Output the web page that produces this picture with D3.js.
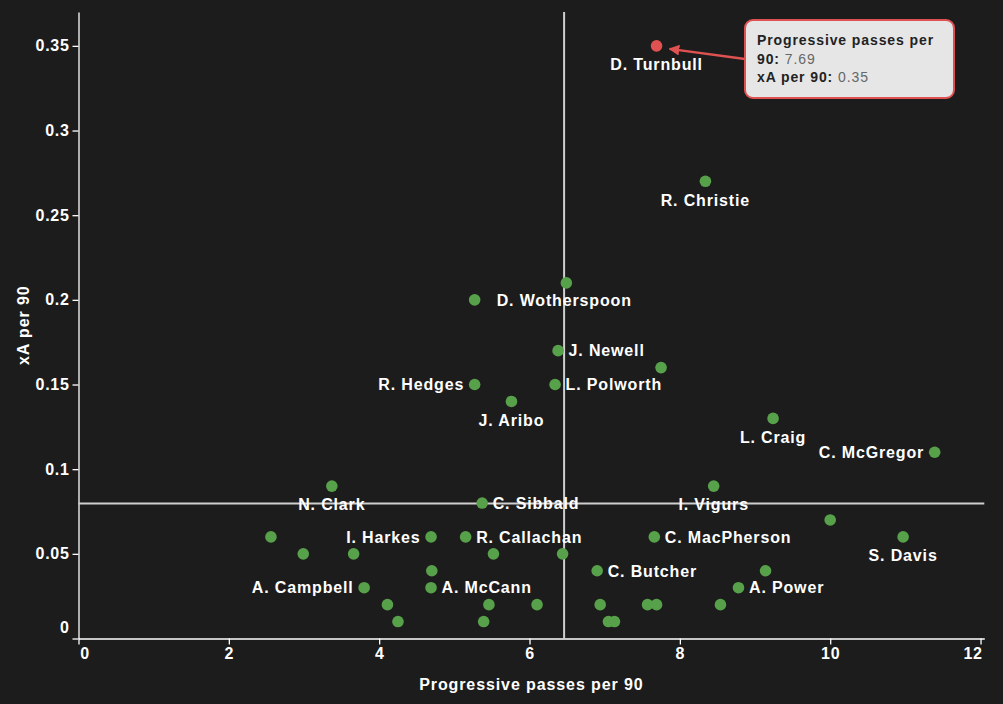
<!DOCTYPE html>
<html>
<head>
<meta charset="utf-8">
<script src="https://cdn.jsdelivr.net/npm/d3@7"></script>
<style>
  html, body { margin: 0; padding: 0; background: #1c1c1c; }
  svg { display: block; }
  text { font-family: "Liberation Sans", Arial, sans-serif; font-weight: bold; }
</style>
</head>
<body>
<svg id="chart" width="1003" height="704"></svg>
<script>
// ---- data ----
const players = [
  "D. Turnbull", "R. Christie", "", "D. Wotherspoon", "J. Newell", "", "R. Hedges", "L. Polworth",
  "J. Aribo", "L. Craig", "C. McGregor", "N. Clark", "I. Vigurs", "C. Sibbald", "", "",
  "I. Harkes", "R. Callachan", "C. MacPherson", "S. Davis", "", "", "", "",
  "", "C. Butcher", "", "A. Campbell", "A. McCann", "A. Power", "", "",
  "", "", "", "", "", "", "", "", ""
];
const progPasses = [
  7.69, 8.34, 6.49, 5.27, 6.38, 7.75, 5.27, 6.34,
  5.76, 9.24, 11.39, 3.37, 8.45, 5.37, 10.00, 2.56,
  4.69, 5.15, 7.66, 10.97, 2.99, 3.66, 5.52, 6.44,
  4.70, 6.90, 9.14, 3.80, 4.69, 8.78, 4.11, 5.46,
  6.10, 6.94, 7.57, 7.69, 8.54, 4.25, 5.39, 7.05, 7.13
];
const xAValues = [
  0.35, 0.27, 0.21, 0.20, 0.17, 0.16, 0.15, 0.15,
  0.14, 0.13, 0.11, 0.09, 0.09, 0.08, 0.07, 0.06,
  0.06, 0.06, 0.06, 0.06, 0.05, 0.05, 0.05, 0.05,
  0.04, 0.04, 0.04, 0.03, 0.03, 0.03, 0.02, 0.02,
  0.02, 0.02, 0.02, 0.02, 0.02, 0.01, 0.01, 0.01, 0.01
];
const xTicks = [0, 2, 4, 6, 8, 10, 12];
const yTicks = [0, 0.05, 0.1, 0.15, 0.2, 0.25, 0.3, 0.35];
const refProgPasses = 6.46;   // vertical reference line
const refXA = 0.0797;         // horizontal reference line
const highlighted = "D. Turnbull";
const xTitle = "Progressive passes per 90";
const yTitle = "xA per 90";

// label placement (layout, not data)
const labelSide = {
  "D. Turnbull": "below", "R. Christie": "below", "D. Wotherspoon": "rightFar",
  "J. Newell": "right", "R. Hedges": "left", "L. Polworth": "right", "J. Aribo": "below",
  "L. Craig": "below", "C. McGregor": "left", "N. Clark": "below", "I. Vigurs": "below",
  "C. Sibbald": "right", "I. Harkes": "left", "R. Callachan": "right", "C. MacPherson": "right",
  "S. Davis": "below", "C. Butcher": "right", "A. Campbell": "left", "A. McCann": "right",
  "A. Power": "right"
};

// ---- chart ----
const svg = d3.select("#chart");
svg.append("rect").attr("width", 1003).attr("height", 704).attr("fill", "#1c1c1c");

const x = d3.scaleLinear().domain([0, 12.05]).range([78.5, 984.3]);
const y = d3.scaleLinear().domain([0, 0.37]).range([638.5, 12]);

const data = progPasses.map((v, i) => ({ name: players[i], x: v, y: xAValues[i] }));

// axes
const xAxis = svg.append("g").attr("transform", `translate(0,${y(0)})`)
  .call(d3.axisBottom(x).tickValues(xTicks).tickFormat(d3.format("d")).tickSizeOuter(0));
const yAxis = svg.append("g").attr("transform", `translate(${x(0)},0)`)
  .call(d3.axisLeft(y).tickValues(yTicks).tickFormat(d => d === 0 ? "0" : String(+d.toFixed(2))).tickSizeOuter(0));

[xAxis, yAxis].forEach(g => {
  g.selectAll("path.domain").attr("stroke", "#ffffff").attr("stroke-width", 1.3);
  g.selectAll(".tick line").attr("stroke", "#ffffff").attr("stroke-width", 1.3);
  g.selectAll(".tick text").attr("fill", "#ffffff").style("font-size", "16px")
    .style("letter-spacing", "0.7px").style("font-weight", "bold")
    .style("font-family", '"Liberation Sans", Arial, sans-serif');
});
xAxis.selectAll(".tick text").filter(d => d === 0).attr("dx", 6);
xAxis.selectAll(".tick text").filter(d => d === 12).attr("dx", -8);
yAxis.selectAll(".tick text").filter(d => d === 0).attr("dy", "-0.4em");

// axis titles
svg.append("text").attr("x", (x.range()[0] + x.range()[1]) / 2).attr("y", 690)
  .attr("text-anchor", "middle").attr("fill", "#ffffff").style("font-size", "16px")
  .style("letter-spacing", "0.9px").text(xTitle);
svg.append("text").attr("transform", `translate(29,${(y.range()[0] + y.range()[1]) / 2}) rotate(-90)`)
  .attr("text-anchor", "middle").attr("fill", "#ffffff").style("font-size", "16px")
  .style("letter-spacing", "0.9px").text(yTitle);

// reference lines
svg.append("line").attr("x1", x(refProgPasses)).attr("x2", x(refProgPasses))
  .attr("y1", y.range()[1]).attr("y2", y(0))
  .attr("stroke", "#cfcfcf").attr("stroke-width", 2);
svg.append("line").attr("x1", x(0)).attr("x2", x.range()[1])
  .attr("y1", y(refXA)).attr("y2", y(refXA))
  .attr("stroke", "#cfcfcf").attr("stroke-width", 2);

// points
svg.append("g").selectAll("circle").data(data).join("circle")
  .attr("cx", d => x(d.x)).attr("cy", d => y(d.y)).attr("r", 5.8)
  .attr("fill", d => d.name === highlighted ? "#e05252" : "#58a14b");

// labels
svg.append("g").selectAll("text").data(data.filter(d => d.name)).join("text")
  .attr("x", d => {
    const s = labelSide[d.name];
    if (s === "right") return x(d.x) + 10.5;
    if (s === "rightFar") return x(d.x) + 22;
    if (s === "left") return x(d.x) - 10.5;
    return x(d.x);
  })
  .attr("y", d => labelSide[d.name] === "below" ? y(d.y) + 18.5 : y(d.y))
  .attr("dy", "0.36em")
  .attr("text-anchor", d => {
    const s = labelSide[d.name];
    return s === "left" ? "end" : (s === "below" ? "middle" : "start");
  })
  .attr("fill", "#ffffff").style("font-size", "16px").style("letter-spacing", "0.85px")
  .text(d => d.name);

// tooltip annotation for highlighted player
const hp = data.find(d => d.name === highlighted);
const defs = svg.append("defs");
defs.append("marker").attr("id", "arrow").attr("viewBox", "0 0 10 10")
  .attr("refX", 9).attr("refY", 5).attr("markerWidth", 4.5).attr("markerHeight", 4.5)
  .attr("orient", "auto-start-reverse")
  .append("path").attr("d", "M0,0 L10,5 L0,10 Z").attr("fill", "#e05252");

const box = { x: 745, y: 20, w: 209, h: 78 };
svg.append("line").attr("x1", box.x).attr("y1", 59).attr("x2", x(hp.x) + 13).attr("y2", y(hp.y) + 3)
  .attr("stroke", "#e05252").attr("stroke-width", 2.4).attr("marker-end", "url(#arrow)");
svg.append("rect").attr("x", box.x).attr("y", box.y).attr("width", box.w).attr("height", box.h)
  .attr("rx", 8).attr("fill", "#e6e6e6").attr("stroke", "#e05252").attr("stroke-width", 2);

const tt = svg.append("text").attr("fill", "#222222").style("font-size", "14px").style("letter-spacing", "0.9px");
tt.append("tspan").attr("x", 757).attr("y", 44.5).text("Progressive passes per");
const l2 = tt.append("tspan").attr("x", 757).attr("y", 63.5);
l2.append("tspan").text("90: ");
l2.append("tspan").attr("fill", "#666666").style("font-weight", "normal").text(hp.x.toFixed(2));
const t3 = svg.append("text").attr("fill", "#222222").style("font-size", "14px").style("letter-spacing", "0.9px")
  .attr("x", 757).attr("y", 82);
t3.append("tspan").text("xA per 90: ");
t3.append("tspan").attr("fill", "#666666").style("font-weight", "normal").text(hp.y.toFixed(2));
</script>
</body>
</html>
